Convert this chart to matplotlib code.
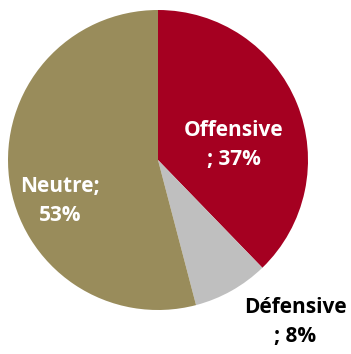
import matplotlib
matplotlib.use("Agg")
import matplotlib.pyplot as plt

categories = ["Offensive", "Défensive", "Neutre"]
values = [37, 8, 53]
colors = ["#A50021", "#BFBFBF", "#998C5B"]

fig = plt.figure(figsize=(3.51, 3.54), dpi=100)
ax = fig.add_axes([0, 0, 1, 1])

ax.pie(values, colors=colors, startangle=90, counterclock=False,
       center=(158, 194), radius=150, frame=True)
ax.set_xlim(0, 351)
ax.set_ylim(0, 354)
ax.axis("off")

font = dict(family=["Open Sans", "DejaVu Sans"], fontweight="bold", fontsize=15,
            ha="center", va="center", linespacing=1.5)
ax.text(234, 209, f"{categories[0]}\n; {values[0]}%", color="white", **font)
ax.text(60, 153, f"{categories[2]};\n{values[2]}%", color="white", **font)
ax.text(295, 32, f"{categories[1]}\n; {values[1]}%", color="black", **font)

fig.savefig("out.png", dpi=100)
